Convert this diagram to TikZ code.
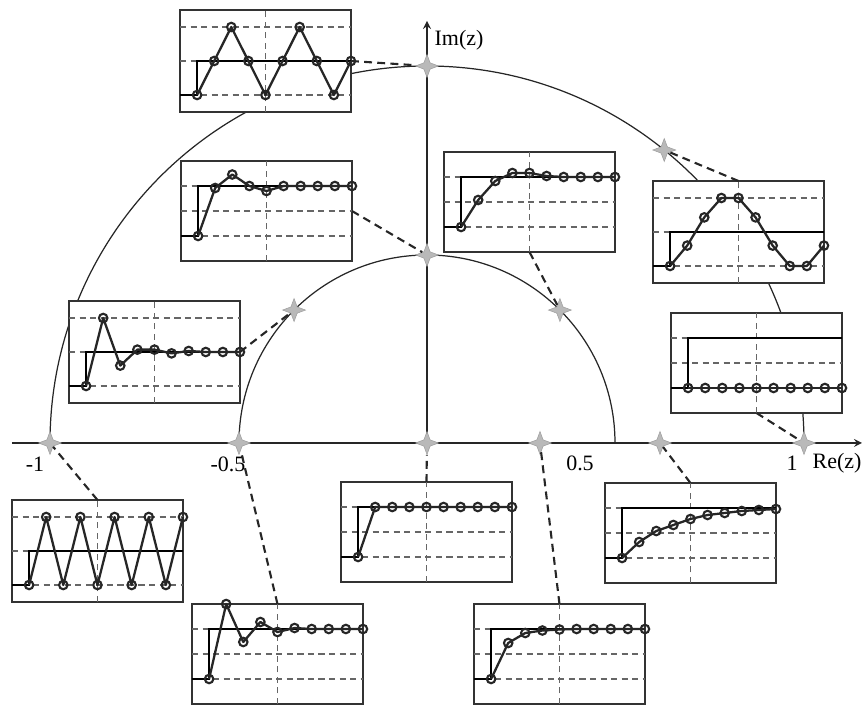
\documentclass[tikz,border=0pt]{standalone}
\usepackage{fontspec}
\setmainfont{Liberation Serif}
\usetikzlibrary{shapes.geometric}

\tikzset{
  respbox/.style={draw=black!80, fill=white, line width=0.7pt, inner sep=0pt, outer sep=0pt, minimum width=3.42cm, anchor=south west},
  gridline/.style={black!60, line width=0.7pt, dash pattern=on 3.5pt off 2.5pt},
  refline/.style={black, line width=0.9pt},
  respline/.style={black!85, line width=1.3pt, line join=round},
  ring/.style={black!85, line width=1.2pt},
  zstar/.style={star, star points=4, star point ratio=2.6, minimum size=0.46cm, inner sep=0pt, fill=gray!55, draw=gray!75, line width=0.3pt},
  link/.style={black!85, line width=1.2pt, dash pattern=on 4.5pt off 3pt},
  zcircle/.style={black!85, line width=0.7pt},
  axis/.style={black!85, line width=1pt, ->, >=stealth},
}

% #1 name, #2 lower left corner, #3 unit of the value axis, #4 top grid value, #5 samples 2..10
\newcommand{\zresp}[5]{%
  \node[respbox, minimum height={(#4+1)*#3}] (#1) at #2 {};
  \begin{scope}[shift={#2}, x=0.342cm, y=#3, shift={(0,0.5)}]
    \foreach \g in {0, #4/2, #4}
      \draw[gridline] (0,\g) -- (10,\g);
    \draw[gridline] (5,-0.5) -- (5,#4+0.5);
    \draw[refline] (0,0) -- (1,0) -- (1,1) -- (10,1);
    \draw[respline] (1,0) \foreach \v [count=\k from 2] in {#5} { -- (\k,\v) };
    \draw[ring] (1,0) circle[radius=0.085cm]
      \foreach \v [count=\k from 2] in {#5} { (\k,\v) circle[radius=0.085cm] };
  \end{scope}}

\begin{document}
\begin{tikzpicture}[x=0.02cm, y=0.02cm, font=\fontsize{12.5}{14}\selectfont]
  \useasboundingbox (-427,-262) rectangle (435,443);
  % z-plane
  \draw[zcircle] (377,0) arc[start angle=0, end angle=180, radius=377];
  \draw[zcircle] (188,0) arc[start angle=0, end angle=180, radius=188];
  \draw[axis] (-415,0) -- (435,0);
  \draw[axis] (0,0) -- (0,422);
  \node (re) at (410,-20) {Re(z)};
  \node (im) at (32,403) {Im(z)};
  \node (lm1) at (-392,-21) {-1};
  \node (lm05) at (-199,-21) {-0.5};
  \node (l05) at (153,-20) {0.5};
  \node (l1) at (365,-20) {1};
  % poles
  \node[zstar] (p90) at (90:377) {};
  \node[zstar] (p51) at (51:377) {};
  \node[zstar] (pm1) at (180:377) {};
  \node[zstar] (q90) at (90:188) {};
  \node[zstar] (q135) at (135:188) {};
  \node[zstar] (q45) at (45:188) {};
  \node[zstar] (qm05) at (180:188) {};
  \node[zstar] (p0) at (0,0) {};
  \node[zstar] (p03) at (113,0) {};
  \node[zstar] (p06) at (233,0) {};
  \node[zstar] (p1) at (377,0) {};
  % step responses
  \zresp{r90}{(-247,331)}{0.68cm}{2}{1,2,1,0,1,2,1,0,1}
  \zresp{h90}{(-246,182)}{1cm}{1}{0.96,1.23,1,0.9,1,1,1,1,1}
  \zresp{h45}{(17,191)}{1cm}{1}{0.54,0.92,1.08,1.08,1.02,1,1,1,1}
  \zresp{r51}{(226,160)}{0.68cm}{2}{0.6,1.43,2,2,1.43,0.6,0,0,0.6}
  \zresp{r1}{(244,30)}{1cm}{1}{0,0,0,0,0,0,0,0,0}
  \zresp{h135}{(-358,40)}{0.68cm}{2}{2,0.6,1.07,1.07,0.96,1.03,1,1,1}
  \zresp{rm1}{(-415,-159)}{0.68cm}{2}{2,0,2,0,2,0,2,0,2}
  \zresp{hm05}{(-235,-261)}{1cm}{1}{1.5,0.74,1.14,0.94,1.02,1,1,1,1}
  \zresp{r0}{(-86,-139)}{1cm}{1}{1,1,1,1,1,1,1,1,1}
  \zresp{r03}{(47,-261)}{1cm}{1}{0.72,0.92,0.97,0.99,1,1,1,1,1}
  \zresp{r06}{(178,-140)}{1cm}{1}{0.32,0.54,0.66,0.78,0.86,0.9,0.94,0.96,0.98}
  % links
  \draw[link] (r90.east) -- (p90);
  \draw[link] (h90.east) -- (q90);
  \draw[link] (h45.south) -- (q45);
  \draw[link] (r51.north) -- (p51);
  \draw[link] (r1.south) -- (p1);
  \draw[link] (h135.east) -- (q135);
  \draw[link] (rm1.north) -- (pm1);
  \draw[link] (hm05.north) -- (qm05);
  \draw[link] (r0.north) -- (p0);
  \draw[link] (r03.north) -- (p03);
  \draw[link] (r06.north) -- (p06);
\end{tikzpicture}
\end{document}
